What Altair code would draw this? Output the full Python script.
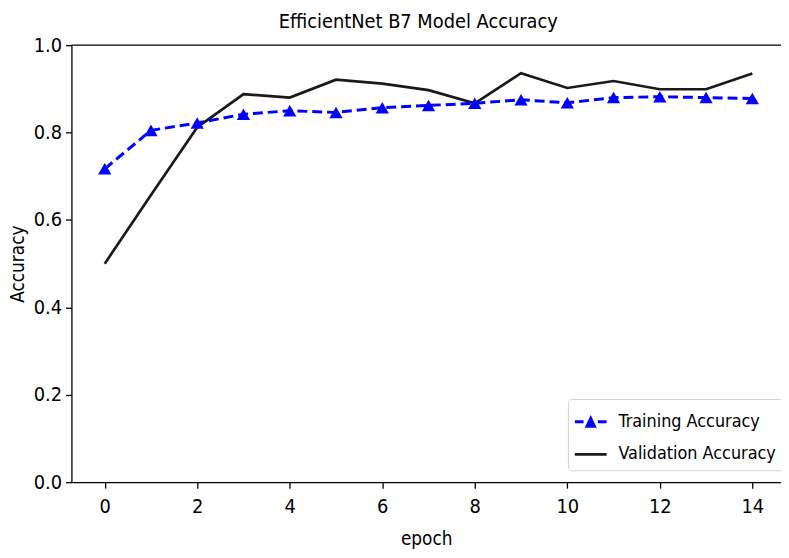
import altair as alt
import pandas as pd

# ---- data ----
epochs = list(range(15))
train_acc = [0.717, 0.805, 0.822, 0.842, 0.850, 0.846, 0.857, 0.862,
             0.867, 0.875, 0.868, 0.880, 0.882, 0.880, 0.878]
val_acc = [0.500, 0.657, 0.812, 0.888, 0.880, 0.921, 0.912, 0.897,
           0.867, 0.936, 0.902, 0.918, 0.899, 0.899, 0.935]
series_names = ["Training Accuracy", "Validation Accuracy"]
series_colors = ["#0000ff", "#1a1a1a"]
x_ticks = [0, 2, 4, 6, 8, 10, 12, 14]
y_ticks = [0.0, 0.2, 0.4, 0.6, 0.8, 1.0]

FONT = "DejaVu Sans Condensed, DejaVu Sans"
W, H = 716, 441

df = pd.DataFrame({
    "epoch": epochs * 2,
    "acc": train_acc + val_acc,
    "series": [series_names[0]] * len(epochs) + [series_names[1]] * len(epochs),
})

x_enc = alt.X("epoch:Q", scale=alt.Scale(domain=[-0.72, 14.62], nice=False, zero=False),
              axis=alt.Axis(values=x_ticks, title="epoch", grid=False, format="d",
                            tickSize=6, labelPadding=9, titlePadding=13))
y_enc = alt.Y("acc:Q", scale=alt.Scale(domain=[0, 1.0], nice=False),
              axis=alt.Axis(values=y_ticks, title="Accuracy", grid=False, format=".1f",
                            tickSize=6, labelPadding=4, titlePadding=6))

base = alt.Chart(df)
is_train = alt.datum.series == series_names[0]
is_val = alt.datum.series == series_names[1]

line_val = base.transform_filter(is_val).mark_line(
    color=series_colors[1], strokeWidth=2.7
).encode(x=x_enc, y=y_enc)

line_train = base.transform_filter(is_train).mark_line(
    color=series_colors[0], strokeWidth=3, strokeDash=[10, 5]
).encode(x=x_enc, y=y_enc)

points = base.transform_filter(is_train).mark_point(
    filled=True, shape="triangle-up", size=180, color=series_colors[0], opacity=1
).encode(x=x_enc, y=y_enc)

train_sym = ("M-1,-0.09L-0.45,-0.09L-0.45,0.09L-1,0.09Z "
             "M-0.38,0.38L0,-0.42L0.38,0.38Z "
             "M0.45,-0.09L1,-0.09L1,0.09L0.45,0.09Z")
val_sym = "M-1,-0.09L1,-0.09L1,0.09L-1,0.09Z"

LEG_X, LEG_Y = 501, 357

# legend-only layer: its marks are pushed outside the clipped plot area
legend_layer = base.mark_point(filled=True, opacity=1, clip=True).encode(
    x=x_enc, y=alt.value(-2000),
    fill=alt.Fill("series:N", scale=alt.Scale(domain=series_names, range=series_colors),
                  legend=alt.Legend(title=None, orient="none", legendX=LEG_X, legendY=LEG_Y)),
    shape=alt.Shape("series:N", scale=alt.Scale(domain=series_names, range=[train_sym, val_sym]),
                    legend=alt.Legend(title=None, orient="none", legendX=LEG_X, legendY=LEG_Y)),
)

top_rule = alt.Chart(pd.DataFrame({"k": [0]})).mark_rule(color="black", strokeWidth=1.3).encode(
    x=alt.value(0), x2=alt.value(W), y=alt.value(0)
)

chart = alt.layer(line_val, line_train, points, legend_layer, top_rule).properties(
    width=W, height=H,
    title=alt.TitleParams("EfficientNet B7 Model Accuracy", font=FONT, fontSize=20,
                          fontWeight="normal", color="black", offset=3, dx=-8),
    autosize=alt.AutoSizeParams(type="none"),
    padding={"left": 64, "top": 35, "right": 0, "bottom": 72},
).configure_view(stroke=None).configure_axis(
    labelFont=FONT, labelFontSize=20, labelColor="black",
    titleFont=FONT, titleFontSize=19, titleColor="black", titleFontWeight="normal",
    domainColor="black", domainWidth=1.3, tickColor="black", tickWidth=1.3,
).configure_legend(
    labelFont=FONT, labelFontSize=18, labelColor="black", labelOffset=12,
    symbolSize=1024, symbolStrokeWidth=0, rowPadding=8,
    padding=7, strokeColor="#d0d0d0", fillColor="white", cornerRadius=4,
)

chart.save("out.html", embed_options={"renderer": "svg", "actions": False})
